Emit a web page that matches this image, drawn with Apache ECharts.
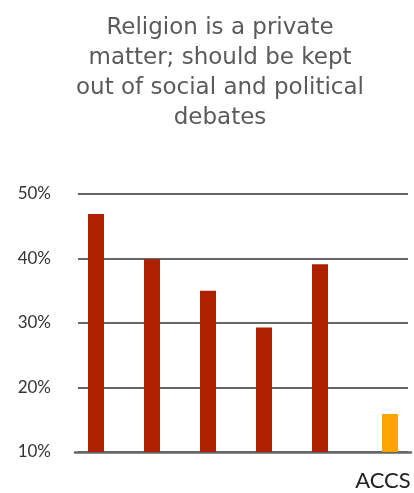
<!DOCTYPE html>
<html>
<head>
<meta charset="utf-8">
<script src="https://cdn.jsdelivr.net/npm/echarts@6/dist/echarts.min.js"></script>
<style>
html,body{margin:0;padding:0;background:#fff;}
#chart{width:414px;height:493px;}
</style>
</head>
<body>
<div id="chart"></div>
<script>
const titleText = 'Religion is a private\nmatter; should be kept\nout of social and political\ndebates';
const categories = ['', '', '', '', '', 'ACCS'];
const mainValues = [46.9, 39.9, 35.0, 29.3, 39.1, null];
const accsValues = [null, null, null, null, null, 15.9];
const yMin = 10, yMax = 50, yStep = 10;

const chart = echarts.init(document.getElementById('chart'), null, {renderer: 'canvas'});
chart.setOption({
  animation: false,
  backgroundColor: '#ffffff',
  title: {
    text: titleText,
    left: 215,
    top: 8,
    textAlign: 'center',
    textStyle: {
      fontFamily: 'DejaVu Sans',
      fontSize: 23,
      fontWeight: 'normal',
      color: '#5a5a5a',
      lineHeight: 30
    }
  },
  grid: [
    {left: 75, right: 3, top: 194, bottom: 41, containLabel: false},
    {left: 78, right: 6, top: 194, bottom: 41, containLabel: false}
  ],
  xAxis: [
    {
      type: 'category', gridIndex: 0, data: categories,
      axisLine: {show: true, lineStyle: {color: '#666', width: 2.5}},
      axisTick: {show: false},
      axisLabel: {show: true, interval: 0, margin: 18, color: '#222', fontFamily: 'Lato', fontSize: 22}
    },
    {
      type: 'category', gridIndex: 1, data: categories,
      show: false
    }
  ],
  yAxis: [
    {
      type: 'value', gridIndex: 0, min: yMin, max: yMax, interval: yStep,
      show: false
    },
    {
      type: 'value', gridIndex: 1, min: yMin, max: yMax, interval: yStep,
      axisLine: {show: false}, axisTick: {show: false},
      axisLabel: {formatter: '{value}%', margin: 27, color: '#333', fontFamily: 'Lato', fontSize: 17},
      splitLine: {show: true, lineStyle: {color: '#666', width: 2}}
    }
  ],
  series: [
    {
      type: 'bar', xAxisIndex: 0, yAxisIndex: 0, data: mainValues,
      barWidth: 16, barGap: '-12.5%',
      itemStyle: {color: '#AD2100'}, z: 3
    },
    {
      type: 'bar', xAxisIndex: 0, yAxisIndex: 0, data: accsValues,
      barWidth: 16, barGap: '-12.5%',
      itemStyle: {color: '#FCA503'}, z: 3
    }
  ]
});
</script>
</body>
</html>
